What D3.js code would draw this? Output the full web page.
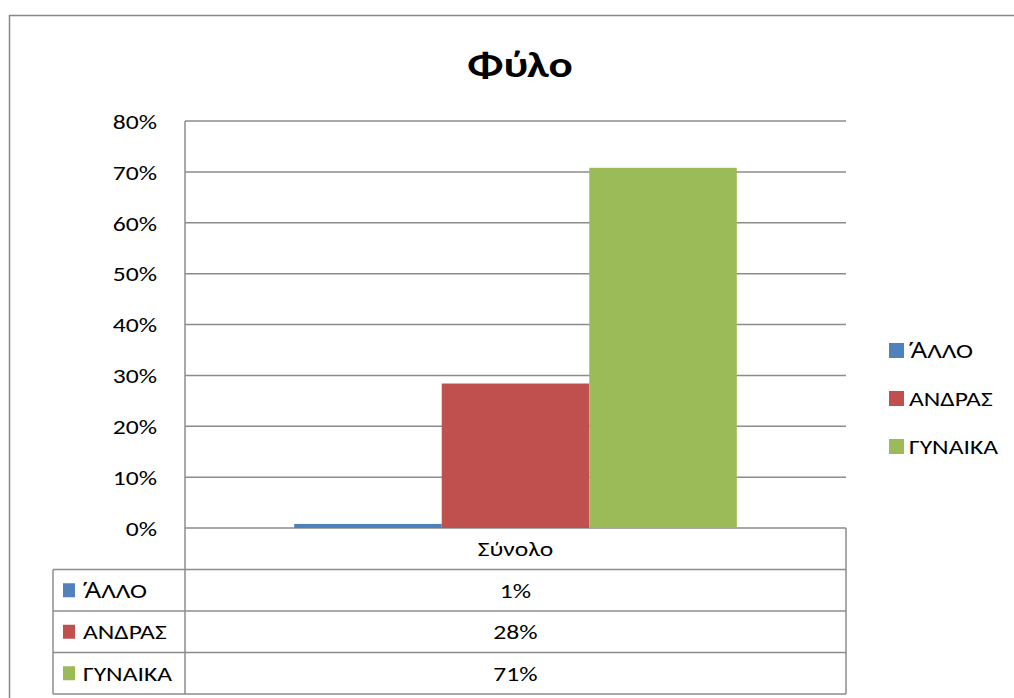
<!DOCTYPE html>
<html>
<head>
<meta charset="utf-8">
<script src="https://cdn.jsdelivr.net/npm/d3@7"></script>
<style>
  body { margin: 0; background: #fff; }
  text { font-family: Calibri, Carlito, "Noto Sans", sans-serif; fill: #000; }
  .tonos { font-family: "Noto Sans", sans-serif; }
</style>
</head>
<body>
<div id="wrapper"></div>
<script>
// data
const categories = ["Σύνολο"];
const seriesNames = ["ΆΛΛΟ", "ΑΝΔΡΑΣ", "ΓΥΝΑΙΚΑ"];
const seriesColors = ["#4f81bd", "#c0504d", "#9bbb59"];
const seriesValues = [0.008, 0.284, 0.708];
const tableLabels = ["1%", "28%", "71%"];
const yTicks = [0, 0.1, 0.2, 0.3, 0.4, 0.5, 0.6, 0.7, 0.8];

const width = 1014, height = 698;
const plot = { left: 185, right: 846, top: 121, bottom: 528 };
const rowH = 41.5;
const tableLeft = 53;
const gridColor = "#8c8c8c";
const sx = 1.22;          // the text in the picture is a bit wide
const fontSize = "21px";

const svg = d3.select("#wrapper")
  .append("svg")
    .attr("width", width)
    .attr("height", height);

// text placed at x,y and widened horizontally
// (the fallback font drops the tonos on capital alpha, so that letter gets Noto Sans)
function addText(g, x, y, str, anchor) {
  const t = g.append("text")
    .attr("transform", `translate(${x},${y}) scale(${sx},1)`)
    .attr("dy", "0.35em")
    .attr("text-anchor", anchor || "start")
    .style("font-size", fontSize);
  str.split(/(Ά)/).filter(p => p.length).forEach(p => {
    t.append("tspan").attr("class", p === "Ά" ? "tonos" : null).text(p);
  });
  return t;
}

// chart border
svg.append("rect")
  .attr("x", 9.5).attr("y", 15.5)
  .attr("width", 1030).attr("height", 700)
  .attr("fill", "none")
  .attr("stroke", "#888")
  .attr("stroke-width", 1.5);

// title
addText(svg, 520, 64, "Φύλο", "middle")
  .style("font-size", "37px")
  .style("font-weight", "bold");

// scales
const yScale = d3.scaleLinear().domain([0, 0.8]).range([plot.bottom, plot.top]);
const x0 = d3.scaleBand().domain(categories).range([plot.left, plot.right]);
const x1 = d3.scaleBand().domain(seriesNames).range([0, x0.bandwidth()]).paddingOuter(0.74);

// gridlines
svg.append("g")
  .selectAll("line")
  .data(yTicks)
  .join("line")
    .attr("x1", plot.left).attr("x2", plot.right)
    .attr("y1", d => yScale(d)).attr("y2", d => yScale(d))
    .attr("stroke", gridColor)
    .attr("stroke-width", 1.5);

// y axis labels
const yAxis = d3.axisLeft(yScale)
  .tickValues(yTicks)
  .tickFormat(d3.format(".0%"))
  .tickSize(0)
  .tickPadding(28);
const yAxisG = svg.append("g")
  .attr("transform", `translate(${plot.left},0)`)
  .call(yAxis);
yAxisG.select(".domain").remove();
yAxisG.selectAll("text")
  .style("font-size", fontSize)
  .attr("x", -28 / sx)
  .attr("dy", "0.35em")
  .attr("transform", `scale(${sx},1)`);

// bars
const barData = categories.flatMap(c => seriesNames.map((s, i) => ({ c, s, v: seriesValues[i], color: seriesColors[i] })));
svg.append("g")
  .selectAll("rect")
  .data(barData)
  .join("rect")
    .attr("x", d => x0(d.c) + x1(d.s))
    .attr("width", x1.bandwidth())
    .attr("y", d => yScale(d.v))
    .attr("height", d => yScale(0) - yScale(d.v))
    .attr("fill", d => d.color);

// data table
const tableTop = plot.bottom;
const tableBottom = tableTop + rowH * (seriesNames.length + 1);
const tg = svg.append("g").attr("stroke", gridColor).attr("stroke-width", 1.5);
tg.append("line").attr("x1", plot.left).attr("x2", plot.left).attr("y1", plot.top).attr("y2", tableBottom);
tg.append("line").attr("x1", plot.right).attr("x2", plot.right).attr("y1", tableTop).attr("y2", tableBottom);
tg.append("line").attr("x1", tableLeft).attr("x2", tableLeft).attr("y1", tableTop + rowH).attr("y2", tableBottom);
d3.range(1, seriesNames.length + 2).forEach(i => {
  tg.append("line")
    .attr("x1", tableLeft).attr("x2", plot.right)
    .attr("y1", tableTop + rowH * i).attr("y2", tableTop + rowH * i);
});

// category header
categories.forEach(c => {
  addText(svg, x0(c) + x0.bandwidth() / 2, tableTop + rowH / 2, c, "middle");
});

// table rows
seriesNames.forEach((s, i) => {
  const cy = tableTop + rowH * (i + 1) + rowH / 2;
  svg.append("rect")
    .attr("x", tableLeft + 10).attr("y", cy - 7)
    .attr("width", 12).attr("height", 14)
    .attr("fill", seriesColors[i]);
  addText(svg, tableLeft + 30, cy, s);
  addText(svg, (plot.left + plot.right) / 2, cy, tableLabels[i], "middle");
});

// legend
seriesNames.forEach((s, i) => {
  const cy = 350.5 + i * 48;
  svg.append("rect")
    .attr("x", 889).attr("y", cy - 7.5)
    .attr("width", 15).attr("height", 15)
    .attr("fill", seriesColors[i]);
  addText(svg, 909, cy, s);
});
</script>
</body>
</html>
